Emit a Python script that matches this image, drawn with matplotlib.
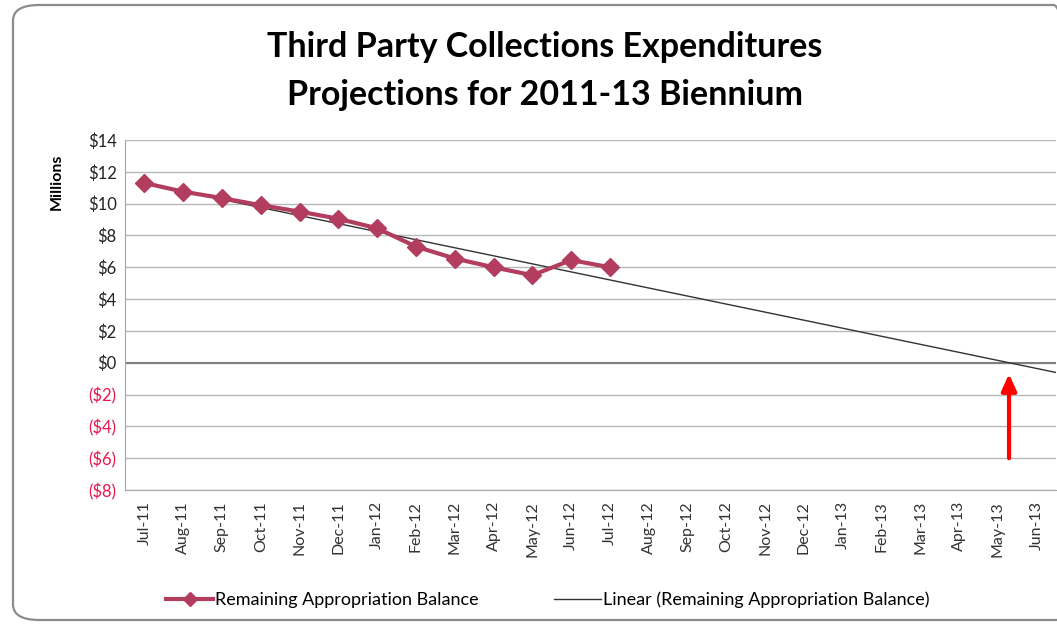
import numpy as np
import matplotlib
matplotlib.use("Agg")
import matplotlib.pyplot as plt
from matplotlib.patches import FancyBboxPatch
from matplotlib.lines import Line2D

# ---- data ----
months = ["Jul-11", "Aug-11", "Sep-11", "Oct-11", "Nov-11", "Dec-11",
          "Jan-12", "Feb-12", "Mar-12", "Apr-12", "May-12", "Jun-12",
          "Jul-12", "Aug-12", "Sep-12", "Oct-12", "Nov-12", "Dec-12",
          "Jan-13", "Feb-13", "Mar-13", "Apr-13", "May-13", "Jun-13"]
balance = [11.3, 10.75, 10.35, 9.9, 9.5, 9.05, 8.45, 7.3, 6.55, 6.0, 5.5, 6.45, 6.0]
y_ticks = [14, 12, 10, 8, 6, 4, 2, 0, -2, -4, -6, -8]
title = "Third Party Collections Expenditures\nProjections for 2011-13 Biennium"
series_name = "Remaining Appropriation Balance"
trend_name = "Linear (Remaining Appropriation Balance)"

FONT = ["Lato", "DejaVu Sans"]
plt.rcParams['font.family'] = FONT

W, H = 1057, 626
fig = plt.figure(figsize=(W / 100, H / 100), dpi=100)

# rounded chart border
border = FancyBboxPatch((13 / W, 1 - 620 / H), (1080 - 13) / W, (620 - 5) / H,
                        boxstyle="round,pad=0,rounding_size=0.025",
                        transform=fig.transFigure, facecolor="none",
                        edgecolor="#8c8c8c", linewidth=1.6, zorder=-10)
fig.patches.append(border)

ax = fig.add_axes([125 / W, 1 - 490 / H, (1056 - 125) / W, 350 / H])
ax.set_facecolor("none")
ax.set_zorder(5)

x_all = np.arange(len(months))
x_data = np.arange(len(balance))

ax.set_xlim(-0.5, len(months) - 0.5)
ax.set_ylim(min(y_ticks), max(y_ticks))

# gridlines
for v in y_ticks:
    ax.axhline(v, color="#b8b8b8", lw=1.0, zorder=1)
ax.axhline(0, color="#7f7f7f", lw=1.5, zorder=2)

# linear trend (least-squares fit of the series, extended forward)
slope, intercept = np.polyfit(x_data, balance, 1)
xt = np.array([0, len(months) - 0.5])
ax.plot(xt, intercept + slope * xt, color="#333333", lw=1.0, zorder=4)

# series
color = "#B23D5E"
ax.plot(x_data, balance, color=color, lw=3, marker="D", markersize=9,
        markerfacecolor=color, markeredgecolor=color, zorder=5)

# red arrow at the zero crossing of the trend
x0 = -intercept / slope
ax.annotate("", xy=(x0, -0.7), xytext=(x0, -6),
            arrowprops=dict(arrowstyle="-|>,head_width=0.45,head_length=1.0",
                            color="#ff0000", lw=3, shrinkA=0, shrinkB=0),
            zorder=6)

# axes styling
for s in ["top", "right"]:
    ax.spines[s].set_visible(False)
ax.spines["left"].set_color("#a6a6a6")
ax.spines["bottom"].set_color("#a6a6a6")

ax.set_yticks(y_ticks)
labels = [f"${v}" if v >= 0 else f"(${-v})" for v in y_ticks]
ax.set_yticklabels(labels, fontsize=12)
for lab, v in zip(ax.get_yticklabels(), y_ticks):
    lab.set_color("#E8174F" if v < 0 else "#222222")
ax.tick_params(axis="y", length=0, pad=6)

ax.set_xticks(x_all)
ax.set_xticklabels(months, rotation=90, fontsize=11.5, color="#333333")
ax.tick_params(axis="x", length=0, pad=8)

fig.text(57 / W, 1 - 182 / H, "Millions", rotation=90, ha="center",
         va="center", fontsize=11.5, fontweight="bold")

fig.text(545 / W, 1 - 71 / H, title, ha="center", va="center",
         fontsize=24.5, fontweight="bold", linespacing=1.6)

handles = [Line2D([], [], color=color, lw=3, marker="D", markersize=7),
           Line2D([], [], color="#333333", lw=1.0)]
fig.legend(handles, [series_name, trend_name], loc="center",
           bbox_to_anchor=(548 / W, 1 - 600 / H), ncol=2, frameon=False,
           fontsize=13, handlelength=2.6, handletextpad=0.1,
           columnspacing=4.2)

fig.savefig("out.png", dpi=100)
